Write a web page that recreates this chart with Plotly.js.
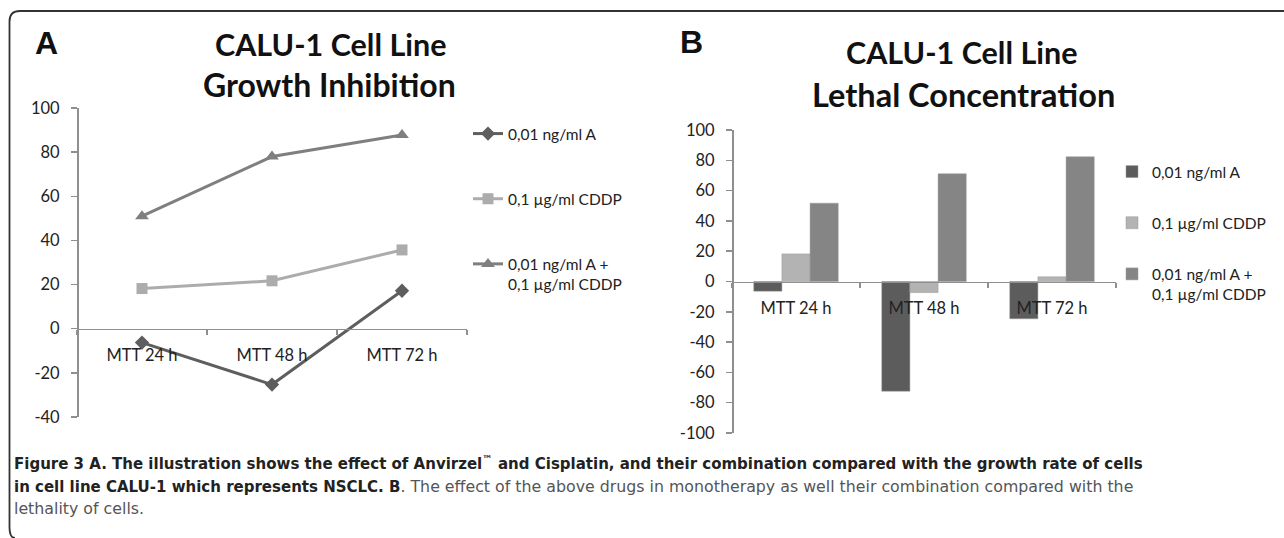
<!DOCTYPE html>
<html>
<head>
<meta charset="utf-8">
<script src="https://cdn.plot.ly/plotly-3.0.1.min.js"></script>
<style>html,body{margin:0;padding:0;background:#fff;}#chart{width:1284px;height:538px;}</style>
</head>
<body>
<div id="chart"></div>
<script>
// ---- data ----
const categories = ['MTT 24 h', 'MTT 48 h', 'MTT 72 h'];
const seriesNames = ['0,01 ng/ml A', '0,1 µg/ml CDDP', '0,01 ng/ml A +<br>0,1 µg/ml CDDP'];
const growthA = [-6.3, -25.3, 17.2];
const growthCDDP = [18.2, 21.7, 35.7];
const growthCombo = [51.0, 78.0, 87.8];
const lethalA = [-6.4, -72.4, -24.6];
const lethalCDDP = [18.2, -7.3, 3.1];
const lethalCombo = [51.7, 71.1, 82.3];
const yTicksA = [-40, -20, 0, 20, 40, 60, 80, 100];
const yTicksB = [-100, -80, -60, -40, -20, 0, 20, 40, 60, 80, 100];
const titleA = ['CALU-1 Cell Line', 'Growth Inhibition'];
const titleB = ['CALU-1 Cell Line', 'Lethal Concentration'];
const captionLines = [
  '<b>Figure 3 A. The illustration shows the effect of Anvirzel<sup>™</sup> and Cisplatin, and their combination compared with the growth rate of cells</b>',
  '<b>in cell line CALU-1 which represents NSCLC. B</b><span style="color:#555;font-size:15.8px">. The effect of the above drugs in monotherapy as well their combination compared with the</span>',
  '<span style="color:#555;font-size:15.8px">lethality of cells.</span>'
];

// ---- layout helpers ----
const W = 1284, H = 538;
const px = x => x / W;
const py = y => 1 - y / H;
const colors = ['#5e5e5e', '#acacac', '#7f7f7f'];
const barColors = ['#5c5c5c', '#b3b3b3', '#858585'];
const tickFont = {family: 'Lato, sans-serif', size: 16.5, color: '#222'};
const axisColor = '#8f8f8f';

const rangeA = [-40, 100], rangeB = [-100, 100];
const domYA = [py(417), py(108)], domYB = [py(433), py(130)];
const zeroPos = (dom, r) => dom[0] + (0 - r[0]) / (r[1] - r[0]) * (dom[1] - dom[0]);

const markers = ['diamond', 'square', 'triangle-up'];
const growth = [growthA, growthCDDP, growthCombo];
const lethal = [lethalA, lethalCDDP, lethalCombo];

const traces = [];
growth.forEach((vals, i) => {
  traces.push({
    type: 'scatter', mode: 'lines+markers', x: categories, y: vals,
    name: seriesNames[i], xaxis: 'x', yaxis: 'y', legend: 'legend', legendgroup: 'a' + i,
    line: {color: colors[i], width: 3},
    marker: {symbol: markers[i], size: i === 2 ? 12 : 11, color: colors[i]},
    hoverinfo: 'skip'
  });
});
lethal.forEach((vals, i) => {
  traces.push({
    type: 'bar', x: categories, y: vals,
    name: seriesNames[i], xaxis: 'x2', yaxis: 'y2', legend: 'legend2', legendgroup: 'b' + i,
    marker: {color: barColors[i], line: {color: '#9a9a9a', width: 0.5}},
    hoverinfo: 'skip'
  });
});

const xCommon = {
  type: 'category', range: [-0.5, 2.5], showline: true, linecolor: axisColor, linewidth: 1.5,
  ticks: 'outside', ticklen: 5, tickcolor: axisColor, tickwidth: 1.5, tickson: 'boundaries',
  showgrid: false, zeroline: false, tickfont: tickFont, ticklabelstandoff: 11, fixedrange: true
};
const yCommon = {
  showline: true, linecolor: axisColor, linewidth: 1.5, ticks: 'outside', ticklen: 6,
  tickcolor: axisColor, tickwidth: 1.5, showgrid: false, zeroline: false, tickfont: tickFont,
  ticklabelstandoff: 8, fixedrange: true
};

const ann = (text, x, y, size, opts) => Object.assign({
  text: text, x: px(x), y: py(y), xref: 'paper', yref: 'paper', showarrow: false,
  xanchor: 'center', yanchor: 'middle',
  font: {family: 'Lato, sans-serif', size: size, color: '#111'}
}, opts || {});

const capFont = {family: '"DejaVu Sans", sans-serif', size: 15, color: '#222'};
const letterFont = {family: '"Liberation Sans", Arial, sans-serif', size: 32, color: '#111'};

const annotations = [
  ann('<b>A</b>', 46.5, 43, 32, {font: letterFont}),
  ann('<b>B</b>', 692, 42, 32, {font: letterFont}),
  ann('<b>' + titleA[0] + '</b>', 331, 44, 30.5),
  ann('<b>' + titleA[1] + '</b>', 330, 84, 32),
  ann('<b>' + titleB[0] + '</b>', 962, 52, 30.5),
  ann('<b>' + titleB[1] + '</b>', 963, 94, 32.5),
  ann(captionLines[0], 12, 463, 15, {xanchor: 'left', font: capFont}),
  ann(captionLines[1], 12, 486, 15, {xanchor: 'left', font: capFont}),
  ann(captionLines[2], 12, 508, 15, {xanchor: 'left', font: capFont})
];

const borderPath = 'M ' + px(1284) + ',' + py(11) + ' L ' + px(20) + ',' + py(11) +
  ' Q ' + px(9.5) + ',' + py(11) + ' ' + px(9.5) + ',' + py(21.5) +
  ' L ' + px(9.5) + ',' + py(527) + ' Q ' + px(9.5) + ',' + py(538) + ' ' + px(15) + ',' + py(538);

const layout = {
  width: W, height: H, autosize: false,
  margin: {l: 0, r: 0, t: 0, b: 0, pad: 0},
  paper_bgcolor: '#fff', plot_bgcolor: 'rgba(0,0,0,0)',
  barmode: 'group', bargap: 0.34, bargroupgap: 0,
  xaxis: Object.assign({}, xCommon, {domain: [px(77), px(467)], anchor: 'free', position: zeroPos(domYA, rangeA)}),
  yaxis: Object.assign({}, yCommon, {domain: domYA, range: rangeA, tickvals: yTicksA, ticktext: yTicksA.map(String), anchor: 'free', position: px(77)}),
  xaxis2: Object.assign({}, xCommon, {domain: [px(732), px(1116)], anchor: 'free', position: zeroPos(domYB, rangeB)}),
  yaxis2: Object.assign({}, yCommon, {domain: domYB, range: rangeB, tickvals: yTicksB, ticktext: yTicksB.map(String), anchor: 'free', position: px(732)}),
  legend: {
    x: px(468), xanchor: 'left', y: py(117), yanchor: 'top', bgcolor: 'rgba(0,0,0,0)',
    font: {family: 'Lato, sans-serif', size: 15.5, color: '#222'}, tracegroupgap: 42, valign: 'top',
    itemclick: false, itemdoubleclick: false
  },
  legend2: {
    x: px(1112), xanchor: 'left', y: py(155), yanchor: 'top', bgcolor: 'rgba(0,0,0,0)',
    font: {family: 'Lato, sans-serif', size: 15.5, color: '#222'}, tracegroupgap: 28, valign: 'top',
    itemclick: false, itemdoubleclick: false
  },
  showlegend: true,
  annotations: annotations,
  shapes: [
    {type: 'path', xref: 'paper', yref: 'paper', path: borderPath, line: {color: '#333', width: 1.8}, layer: 'above'}
  ]
};

Plotly.newPlot('chart', traces, layout, {staticPlot: true, displayModeBar: false});
</script>
</body>
</html>
